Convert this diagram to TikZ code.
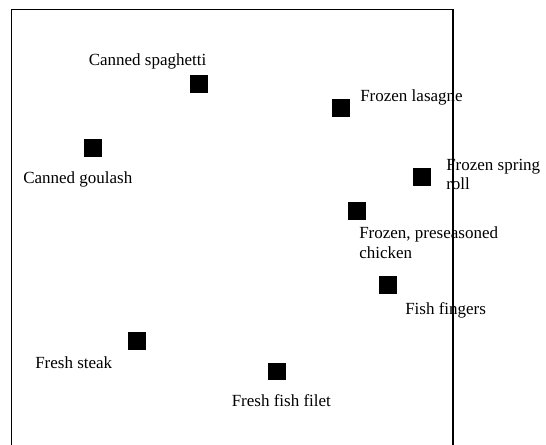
\documentclass[tikz,border=0pt]{standalone}
\usepackage{fontspec}
\setmainfont{Liberation Serif}
\begin{document}
\begin{tikzpicture}[x=0.75pt,y=-0.75pt,
  marker/.style={fill=black,draw=none,inner sep=0pt,minimum size=13.3pt},
  lbl/.style={inner sep=0pt,anchor=base west,font=\fontsize{12.75}{14.6}\selectfont},
  lbltwo/.style={inner sep=0pt,anchor=north west,align=left,font=\fontsize{12.75}{14.6}\selectfont}]
\useasboundingbox (0,0) rectangle (546,445);

% product markers
\node[marker] (spag)    at (199,84)    {};
\node[marker] (lasagne) at (341,108)   {};
\node[marker] (goulash) at (93,148)    {};
\node[marker] (spring)  at (422,177)   {};
\node[marker] (chicken) at (357,211)   {};
\node[marker] (fingers) at (388,285)   {};
\node[marker] (steak)   at (137,341)   {};
\node[marker] (filet)   at (277,371.5) {};

% product names
\node[lbl] (tspag)    at (88.5,66)  {Canned spaghetti};
\node[lbl] (tlasagne) at (360,101.5) {Frozen lasagne};
\node[lbl] (tgoulash) at (23,183.5) {Canned goulash};
\node[lbltwo] (tspring)  at (446,158.5) {Frozen spring\\roll};
\node[lbltwo] (tchicken) at (359,226.5) {Frozen, preseasoned\\chicken};
\node[lbl] (tfingers) at (405,314.5)  {Fish fingers};
\node[lbl] (tsteak)   at (35,368.5) {Fresh steak};
\node[lbl] (tfilet)   at (231.5,406.5) {Fresh fish filet};

% frame
\draw[line width=0.9pt] (11.5,450) -- (11.5,9.5) -- (453,9.5) -- (453,450);
\end{tikzpicture}
\end{document}
